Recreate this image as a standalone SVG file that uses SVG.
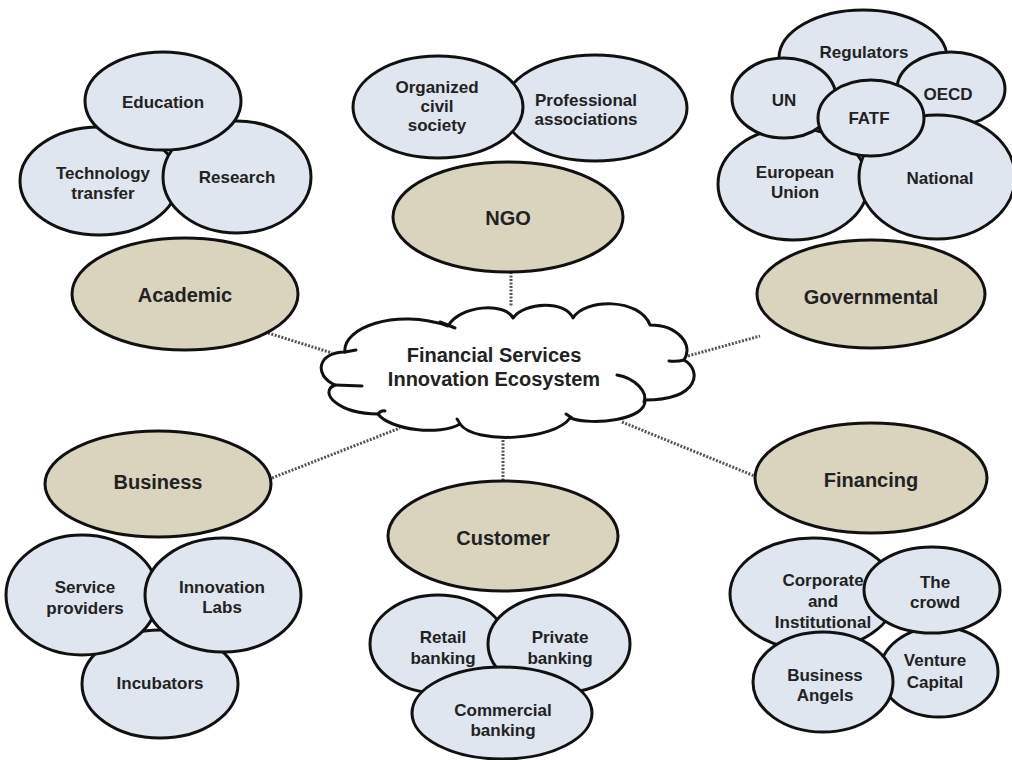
<svg xmlns="http://www.w3.org/2000/svg" width="1012" height="760" viewBox="0 0 1012 760">
<style>
.sub{fill:#dfe6f0;stroke:#111;stroke-width:3}
.cat{fill:#dad4bf;stroke:#111;stroke-width:3}
.cloud{fill:#fff;stroke:#111;stroke-width:3;stroke-linejoin:round}
.hook{fill:none;stroke:#111;stroke-width:3;stroke-linecap:round}
.con{fill:none;stroke:#555;stroke-width:3;stroke-dasharray:2 1.5}
text{font-family:"Liberation Sans",Arial,sans-serif;font-weight:bold;fill:#222;text-anchor:middle}
.t17{font-size:17px}
.t20{font-size:20px}
</style>
<rect width="1012" height="760" fill="#fff"/>
<g id="connectors">
<line class="con" x1="268" y1="333" x2="332" y2="353"/>
<line class="con" x1="511" y1="272" x2="511" y2="306"/>
<line class="con" x1="688" y1="356" x2="760" y2="336"/>
<line class="con" x1="272" y1="478" x2="400" y2="428"/>
<line class="con" x1="503" y1="440" x2="503" y2="480"/>
<line class="con" x1="622" y1="422" x2="757" y2="477"/>
</g>
<g id="center">
<path class="cloud" d="M345,352 C342,328 395,308 448,326 C460,305 505,302 513,318 C525,302 565,300 573,318 C585,298 640,298 650,325 C678,325 694,345 684,360 C702,370 700,400 645,400 C647,420 592,426 570,418 C555,440 475,445 460,424 C440,436 390,430 378,414 C338,414 318,392 335,385 C313,375 318,352 345,352 Z"/>
<path class="hook" d="M440,322 Q448,325 455,328"/>
<path class="hook" d="M684,360 Q677,362 669,361"/>
<path class="hook" d="M617,375 C635,378 648,392 644,402"/>
<path class="hook" d="M378,414 Q381,410 385,411"/>
<path class="hook" d="M335,385 L362,386"/>
<path class="hook" d="M345,352 L356,350"/>
<path class="hook" d="M566,414 Q569,416 572,418"/>
<path class="hook" d="M460,424 Q458,420 457,419"/>
<text class="t20" x="494" y="362">Financial Services</text>
<text class="t20" x="494" y="386">Innovation Ecosystem</text>
</g>
<g id="academic">
<ellipse class="sub" cx="99" cy="181" rx="79" ry="54"/>
<ellipse class="sub" cx="237" cy="177" rx="74" ry="56"/>
<ellipse class="sub" cx="163" cy="101" rx="78" ry="49"/>
<text class="t17" x="163" y="108">Education</text>
<text class="t17" x="103" y="179">Technology</text>
<text class="t17" x="103" y="199">transfer</text>
<text class="t17" x="237" y="183">Research</text>
<ellipse class="cat" cx="185" cy="294" rx="113" ry="56"/>
<text class="t20" x="185" y="302">Academic</text>
</g>
<g id="ngo">
<ellipse class="sub" cx="595" cy="108" rx="92" ry="53"/>
<ellipse class="sub" cx="438" cy="107" rx="85" ry="51"/>
<text class="t17" x="437" y="93">Organized</text>
<text class="t17" x="437" y="112">civil</text>
<text class="t17" x="437" y="131">society</text>
<text class="t17" x="586" y="106">Professional</text>
<text class="t17" x="586" y="125">associations</text>
<ellipse class="cat" cx="508" cy="217" rx="115" ry="55"/>
<text class="t20" x="508" y="225">NGO</text>
</g>
<g id="governmental">
<ellipse class="sub" cx="863" cy="58" rx="84" ry="48"/>
<ellipse class="sub" cx="951" cy="89" rx="54" ry="37"/>
<ellipse class="sub" cx="793" cy="184" rx="75" ry="56"/>
<ellipse class="sub" cx="937" cy="177" rx="78" ry="62"/>
<ellipse class="sub" cx="784" cy="98" rx="52" ry="40"/>
<ellipse class="sub" cx="871" cy="118" rx="53" ry="38"/>
<text class="t17" x="864" y="58">Regulators</text>
<text class="t17" x="784" y="106">UN</text>
<text class="t17" x="948" y="100">OECD</text>
<text class="t17" x="869" y="124">FATF</text>
<text class="t17" x="795" y="178">European</text>
<text class="t17" x="795" y="198">Union</text>
<text class="t17" x="940" y="184">National</text>
<ellipse class="cat" cx="871" cy="294" rx="114" ry="54"/>
<text class="t20" x="871" y="304">Governmental</text>
</g>
<g id="business">
<ellipse class="cat" cx="158" cy="484" rx="113" ry="53"/>
<text class="t20" x="158" y="489">Business</text>
<ellipse class="sub" cx="160" cy="684" rx="78" ry="54"/>
<ellipse class="sub" cx="82" cy="595" rx="76" ry="60"/>
<ellipse class="sub" cx="223" cy="595" rx="78" ry="57"/>
<text class="t17" x="85" y="593">Service</text>
<text class="t17" x="85" y="614">providers</text>
<text class="t17" x="222" y="593">Innovation</text>
<text class="t17" x="222" y="613">Labs</text>
<text class="t17" x="160" y="689">Incubators</text>
</g>
<g id="customer">
<ellipse class="cat" cx="503" cy="536" rx="115" ry="55"/>
<text class="t20" x="503" y="545">Customer</text>
<ellipse class="sub" cx="438" cy="644" rx="68" ry="49"/>
<ellipse class="sub" cx="559" cy="644" rx="71" ry="49"/>
<ellipse class="sub" cx="502" cy="713" rx="90" ry="46"/>
<text class="t17" x="443" y="643">Retail</text>
<text class="t17" x="443" y="664">banking</text>
<text class="t17" x="560" y="643">Private</text>
<text class="t17" x="560" y="664">banking</text>
<text class="t17" x="503" y="716">Commercial</text>
<text class="t17" x="503" y="736">banking</text>
</g>
<g id="financing">
<ellipse class="cat" cx="871" cy="478" rx="116" ry="55"/>
<text class="t20" x="871" y="487">Financing</text>
<ellipse class="sub" cx="813" cy="594" rx="83" ry="56"/>
<ellipse class="sub" cx="939" cy="672" rx="59" ry="45"/>
<ellipse class="sub" cx="932" cy="590" rx="68" ry="43"/>
<ellipse class="sub" cx="823" cy="682" rx="70" ry="50"/>
<text class="t17" x="823" y="586">Corporate</text>
<text class="t17" x="823" y="607">and</text>
<text class="t17" x="823" y="628">Institutional</text>
<text class="t17" x="935" y="588">The</text>
<text class="t17" x="935" y="608">crowd</text>
<text class="t17" x="825" y="681">Business</text>
<text class="t17" x="825" y="701">Angels</text>
<text class="t17" x="935" y="666">Venture</text>
<text class="t17" x="935" y="688">Capital</text>
</g>
</svg>
